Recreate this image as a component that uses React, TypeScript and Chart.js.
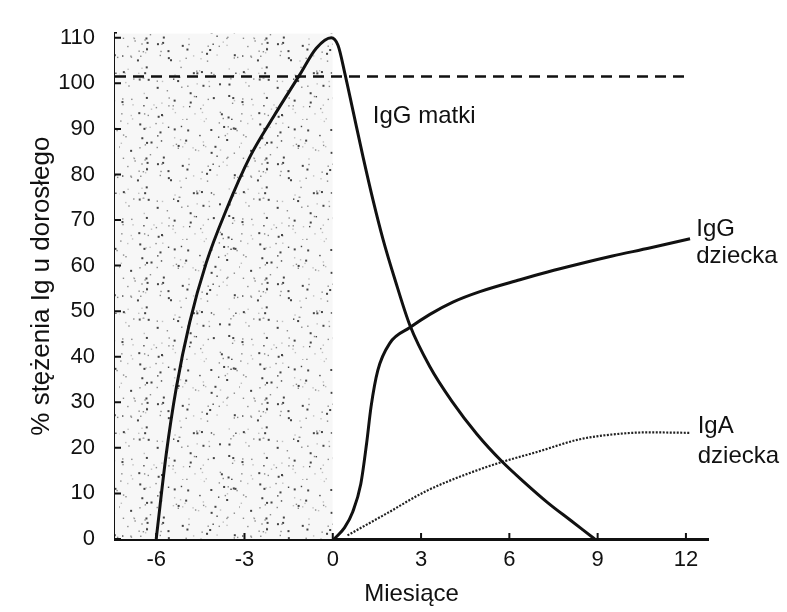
import React, { useEffect, useRef } from "react";
import { Chart, registerables } from "chart.js";

Chart.register(...registerables);

// ---- data ----
const xTicks = [-6, -3, 0, 3, 6, 9, 12];
const yTicks = [0, 10, 20, 30, 40, 50, 60, 70, 80, 90, 100, 110];
const xMin = -7.4;
const xMax = 12.75;
const yMin = 0;
const yMax = 111;

const igGMatkiX = [-6, -5.66, -5.32, -4.86, -4.3, -3.62, -2.82, -2.03, -1.12, -0.56, -0.05, 0.18, 0.41, 0.69, 1.03, 1.37, 1.71, 2.11, 2.62, 3.3, 4.05, 4.9, 5.75, 6.5, 7.3, 8.1, 8.9];
const igGMatkiY = [0, 18.6, 33.1, 47.6, 60.6, 72.2, 83.8, 92.5, 101.9, 107.7, 110, 108.3, 102.2, 93.9, 83.8, 74.3, 65.7, 57, 46.9, 37.8, 30.2, 23, 17, 12.5, 8, 4, 0];

const igGDzieckaX = [0.05, 0.4, 0.68, 0.95, 1.15, 1.3, 1.53, 1.94, 2.62, 3.3, 4.08, 5.0, 6.36, 7.3, 8.4, 9.5, 10.8, 12.14];
const igGDzieckaY = [0, 2.5, 6, 12, 21, 29, 37, 43, 46.4, 49.3, 52, 54.3, 56.9, 58.6, 60.4, 62.1, 63.9, 65.9];

const igADzieckaX = [0.5, 1.83, 3.2, 4.66, 5.75, 6.94, 8.4, 9.6, 10.7, 12.14];
const igADzieckaY = [0.8, 5.6, 10.6, 14.5, 16.9, 19.1, 21.9, 23.0, 23.4, 23.3];

const adultLevel = 101.5;
const adultLineFrom = -7.4;
const adultLineTo = 12.1;

const prenatalFrom = -7.4;
const prenatalTo = 0;
const prenatalTop = 111;

const labelTexts = ["IgG matki", "IgG", "dziecka", "IgA", "dziecka"];
const labelX = [1.36, 12.35, 12.35, 12.4, 12.4];
const labelY = [92.8, 67.9, 62.0, 24.7, 18.2];

const yTitle = "% stężenia Ig u dorosłego";
const xTitle = "Miesiące";

const FONT = "'Liberation Sans', Arial, Helvetica, sans-serif";
const INK = "#111";

function toPoints(xs: number[], ys: number[]) {
  return xs.map((x, i) => ({ x, y: ys[i] }));
}

function makeStipple(): CanvasPattern | string {
  const size = 120;
  const c = document.createElement("canvas");
  c.width = size;
  c.height = size;
  const g = c.getContext("2d");
  if (!g) return "#eee";
  g.fillStyle = "#f7f7f7";
  g.fillRect(0, 0, size, size);
  // deterministic texture (style only)
  let s = 987654;
  const next = () => {
    s = (s * 16807) % 2147483647;
    return s / 2147483647;
  };
  for (let i = 0; i < 210; i++) {
    const px = next() * size;
    const py = next() * size;
    const r = next();
    g.fillStyle = r < 0.4 ? "#444" : r < 0.75 ? "#8a8a8a" : "#c0c0c0";
    const d = r < 0.3 ? 2 : 1.4;
    g.fillRect(px, py, d, d);
  }
  const p = g.createPattern(c, "repeat");
  return p || "#eee";
}

const decorPlugin = {
  id: "decor",
  afterDatasetsDraw(chart: any) {
    const { ctx, scales } = chart;
    const x = scales.x;
    const y = scales.y;
    ctx.save();
    ctx.strokeStyle = INK;
    ctx.lineWidth = 2;
    ctx.beginPath();
    xTicks.forEach((v) => {
      const px = x.getPixelForValue(v);
      ctx.moveTo(px, y.bottom);
      ctx.lineTo(px, y.bottom - 6);
    });
    yTicks.forEach((v) => {
      const py = y.getPixelForValue(v);
      ctx.moveTo(x.left, py);
      ctx.lineTo(x.left + 6, py);
    });
    ctx.stroke();

    ctx.fillStyle = INK;
    ctx.font = `24px ${FONT}`;
    ctx.textAlign = "left";
    ctx.textBaseline = "middle";
    labelTexts.forEach((t, i) => {
      ctx.fillText(t, x.getPixelForValue(labelX[i]), y.getPixelForValue(labelY[i]));
    });
    ctx.restore();
  },
};

export default function App() {
  const canvasRef = useRef<HTMLCanvasElement | null>(null);

  useEffect(() => {
    if (!canvasRef.current) return;
    const stipple = makeStipple();
    const chart = new Chart(canvasRef.current, {
      type: "scatter",
      data: {
        datasets: [
          {
            label: "prenatal",
            order: 10,
            data: [
              { x: prenatalFrom, y: prenatalTop },
              { x: prenatalTo, y: prenatalTop },
            ],
            showLine: true,
            borderWidth: 0,
            borderColor: "rgba(0,0,0,0)",
            backgroundColor: stipple as any,
            fill: "origin",
            pointRadius: 0,
          },
          {
            label: "adult",
            order: 5,
            data: [
              { x: adultLineFrom, y: adultLevel },
              { x: adultLineTo, y: adultLevel },
            ],
            showLine: true,
            borderColor: INK,
            borderWidth: 2.5,
            borderDash: [11, 7],
            pointRadius: 0,
            fill: false,
          },
          {
            label: "IgG matki",
            order: 1,
            data: toPoints(igGMatkiX, igGMatkiY),
            showLine: true,
            borderColor: INK,
            borderWidth: 3,
            cubicInterpolationMode: "monotone",
            pointRadius: 0,
            fill: false,
          },
          {
            label: "IgG dziecka",
            order: 1,
            data: toPoints(igGDzieckaX, igGDzieckaY),
            showLine: true,
            borderColor: INK,
            borderWidth: 3,
            cubicInterpolationMode: "monotone",
            pointRadius: 0,
            fill: false,
          },
          {
            label: "IgA dziecka",
            order: 1,
            data: toPoints(igADzieckaX, igADzieckaY),
            showLine: true,
            borderColor: "#222",
            borderWidth: 2.2,
            borderDash: [2, 1.5],
            cubicInterpolationMode: "monotone",
            pointRadius: 0,
            fill: false,
          },
        ],
      },
      options: {
        animation: false,
        responsive: true,
        maintainAspectRatio: false,
        layout: { padding: { left: 0, right: 79, top: 28, bottom: 0 } },
        plugins: {
          legend: { display: false },
          tooltip: { enabled: false },
        },
        scales: {
          x: {
            type: "linear",
            min: xMin,
            max: xMax,
            afterBuildTicks: (scale: any) => {
              scale.ticks = xTicks.map((v) => ({ value: v }));
            },
            afterFit: (scale: any) => {
              scale.height = 73;
            },
            grid: { display: false, drawTicks: false },
            border: { display: true, color: INK, width: 3 },
            ticks: {
              color: INK,
              font: { size: 22, family: FONT },
              padding: 8,
              maxRotation: 0,
              autoSkip: false,
            },
            title: {
              display: true,
              text: xTitle,
              color: INK,
              font: { size: 24, family: FONT },
              padding: { top: 0, bottom: 3 },
            },
          },
          y: {
            type: "linear",
            min: yMin,
            max: yMax,
            afterBuildTicks: (scale: any) => {
              scale.ticks = yTicks.map((v) => ({ value: v }));
            },
            afterFit: (scale: any) => {
              scale.width = 115;
            },
            grid: { display: false, drawTicks: false },
            border: { display: true, color: INK, width: 3 },
            ticks: {
              color: INK,
              font: { size: 22, family: FONT },
              padding: 20,
              autoSkip: false,
            },
            title: {
              display: true,
              text: yTitle,
              color: INK,
              font: { size: 26, family: FONT },
              padding: { top: 26, bottom: 0 },
            },
          },
        },
      },
      plugins: [decorPlugin],
    } as any);
    return () => chart.destroy();
  }, []);

  return (
    <div
      style={{
        position: "absolute",
        left: 0,
        top: 0,
        width: 787,
        height: 612,
        background: "#fff",
      }}
    >
      <canvas ref={canvasRef} />
    </div>
  );
}
